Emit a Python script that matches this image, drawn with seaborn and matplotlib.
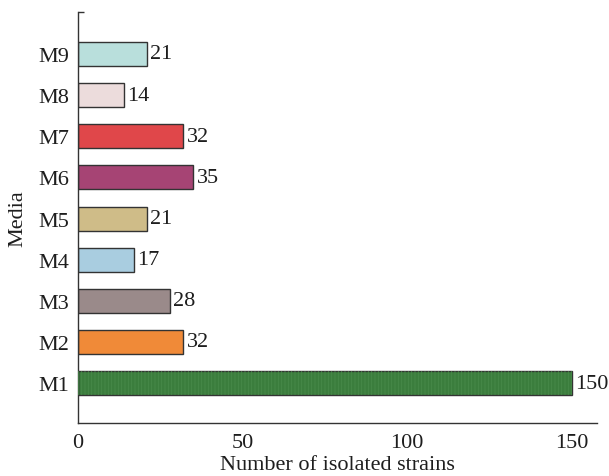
import matplotlib
matplotlib.use("Agg")
import matplotlib.pyplot as plt
import seaborn as sns
import pandas as pd

media = ["M9", "M8", "M7", "M6", "M5", "M4", "M3", "M2", "M1"]
strains = [21, 14, 32, 35, 21, 17, 28, 32, 150]
colors = ["#b9dfdc", "#ecdcdc", "#e0474a", "#a64474", "#cfbc88",
          "#a9cde0", "#9a8a8a", "#f08a38", "#3b7d3d"]

sns.set_style("white")
plt.rcParams["font.family"] = ["Liberation Serif", "DejaVu Serif"]
plt.rcParams["hatch.linewidth"] = 0.6

df = pd.DataFrame({"Media": media, "Strains": strains})

fig = plt.figure(figsize=(6.09, 4.77), dpi=100)
ax = fig.add_axes([0.1273, 0.1111, 0.8530, 0.8616])

sns.barplot(data=df, x="Strains", y="Media", order=media, hue="Media",
            palette=dict(zip(media, colors)), legend=False, width=0.584,
            edgecolor="#333333", linewidth=1.0, ax=ax, saturation=1)

# faint vertical texture on the M1 bar
i1 = media.index("M1")
ax.barh(i1, strains[i1], height=0.584, color="none", edgecolor="#478a49",
        hatch="|||||", linewidth=0, zorder=3)

for patch, val in zip(ax.patches[:len(media)], strains):
    y = patch.get_y() + patch.get_height() / 2
    ax.text(patch.get_width() + 1.1, y, f"{val}", va="center", ha="left",
            fontsize=16, color="#1e1e1e")

ax.set_xlim(0, 157.6)
ax.set_ylim(8.97, -1.02)
ax.set_xticks([0, 50, 100, 150])
ax.set_yticks([-1.02], minor=True)
ax.set_xlabel("Number of isolated strains", fontsize=16, color="#1e1e1e", labelpad=2.5)
ax.set_ylabel("Media", fontsize=16, color="#1e1e1e", labelpad=8)
ax.tick_params(axis="x", direction="in", length=5, width=1, labelsize=16,
               colors="#1e1e1e", pad=7)
ax.tick_params(axis="y", which="major", length=0, labelsize=16, colors="#1e1e1e", pad=6)
ax.tick_params(axis="y", which="minor", direction="in", length=4, width=1,
               colors="#333333", left=True)
for s in ["top", "right"]:
    ax.spines[s].set_visible(False)
for s in ["left", "bottom"]:
    ax.spines[s].set_color("#333333")
    ax.spines[s].set_linewidth(1.0)

fig.savefig("out.png", dpi=100)
